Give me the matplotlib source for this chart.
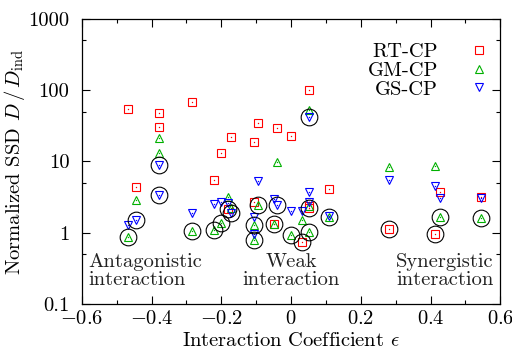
import numpy as np
import matplotlib
matplotlib.use("Agg")
import matplotlib.pyplot as plt
from matplotlib.ticker import FixedLocator, MultipleLocator, NullFormatter, FuncFormatter

plt.rcParams['font.family'] = 'serif'
plt.rcParams['font.serif'] = ['cmr10']
plt.rcParams['mathtext.fontset'] = 'cm'
plt.rcParams['axes.formatter.use_mathtext'] = True
plt.rcParams['font.size'] = 14.8

# interaction coefficient of each data set
eps = [-0.467, -0.444, -0.380, -0.380, -0.285, -0.221, -0.202, -0.181,
       -0.173, -0.107, -0.107, -0.094, -0.049, -0.039, 0.001, 0.030,
       0.052, 0.052, 0.052, 0.109, 0.280, 0.413, 0.428, 0.544]
# normalized SSD for each method
rt_cp = [54, 4.36, 47.7, 30.4, 67.6, 5.5, 13.0, 2.15, 21.8, 18.9, 2.69, 34.2,
         1.34, 29.1, 22.5, 0.75, 102, 2.2, 2.35, 4.17, 1.13, 0.96, 3.7, 3.22]
gm_cp = [0.86, 2.9, 21.3, 13.0, 1.07, 1.1, 1.36, 3.15, 2.2, 1.29, 0.78, 2.46,
         1.32, 9.9, 0.92, 1.53, 52.5, 2.35, 1.04, 1.64, 8.46, 8.6, 1.64, 1.6]
gs_cp = [1.29, 1.5, 8.9, 3.4, 1.89, 2.52, 2.74, 2.6, 1.89, 1.64, 0.97, 5.4,
         2.96, 2.46, 2.05, 1.99, 42.4, 2.74, 3.7, 1.69, 5.5, 4.59, 3.06, 3.06]

eps = np.array(eps)
best = np.min(np.array([rt_cp, gm_cp, gs_cp]), axis=0)   # circled: best method

fig = plt.figure(figsize=(5.12, 3.63), dpi=100)
ax = fig.add_axes([0.160, 0.1625, 0.817, 0.7855])

series = [(rt_cp, 's', '#ff0000', 'RT-CP'),
          (gm_cp, '^', '#00b000', 'GM-CP'),
          (gs_cp, 'v', '#0000ff', 'GS-CP')]
for vals, mk, col, lab in series:
    ax.plot(eps, vals, ls='none', marker=mk, ms=6, mfc='none', mec=col,
            mew=0.8, label=lab)
    ax.plot(eps, vals, ls='none', marker='o', ms=1.0, mfc=col, mec=col, mew=0)

ax.plot(eps, best, ls='none', marker='o', ms=12, mfc='none', mec='black', mew=0.8)

ax.set_yscale('log')
ax.set_xlim(-0.6, 0.6)
ax.set_ylim(0.1, 1000)
ax.xaxis.set_major_locator(MultipleLocator(0.2))
ax.xaxis.set_minor_locator(MultipleLocator(0.1))
ax.xaxis.set_major_formatter(FuncFormatter(
    lambda v, p: '$0$' if abs(v) < 1e-9 else '$%.1f$' % v))
ax.yaxis.set_major_locator(FixedLocator([0.1, 1, 10, 100, 1000]))
ax.yaxis.set_minor_locator(FixedLocator([0.5, 5, 50, 500]))
ax.yaxis.set_minor_formatter(NullFormatter())
ax.yaxis.set_major_formatter(FuncFormatter(lambda v, p: '%g' % v))
ax.tick_params(which='both', direction='in', top=True, right=True, width=0.8)
ax.tick_params(which='major', length=6)
ax.tick_params(which='minor', length=3)
ax.tick_params(axis='y', which='major', pad=9)
ax.tick_params(axis='x', which='major', pad=4)
for s in ax.spines.values():
    s.set_linewidth(0.9)

ax.set_xlabel(r'Interaction Coefficient $\epsilon$', labelpad=3)
ax.set_ylabel(r'Normalized SSD $D\,/\,D_{\rm ind}$', labelpad=1)

ax.text(0.015, 0.115, 'Antagonistic\ninteraction', transform=ax.transAxes,
        ha='left', va='center', linespacing=1.0, color='#222222')
ax.text(0.50, 0.115, 'Weak\ninteraction', transform=ax.transAxes,
        ha='center', va='center', linespacing=1.0, color='#222222')
ax.text(0.985, 0.115, 'Synergistic\ninteraction', transform=ax.transAxes,
        ha='right', va='center', linespacing=1.0, color='#222222')

ax.legend(loc='upper right', bbox_to_anchor=(1.004, 0.96), frameon=False,
          markerfirst=False, handlelength=1.0, handletextpad=1.5,
          labelspacing=0.02, borderaxespad=0.2)

fig.savefig('out.png', dpi=100)
